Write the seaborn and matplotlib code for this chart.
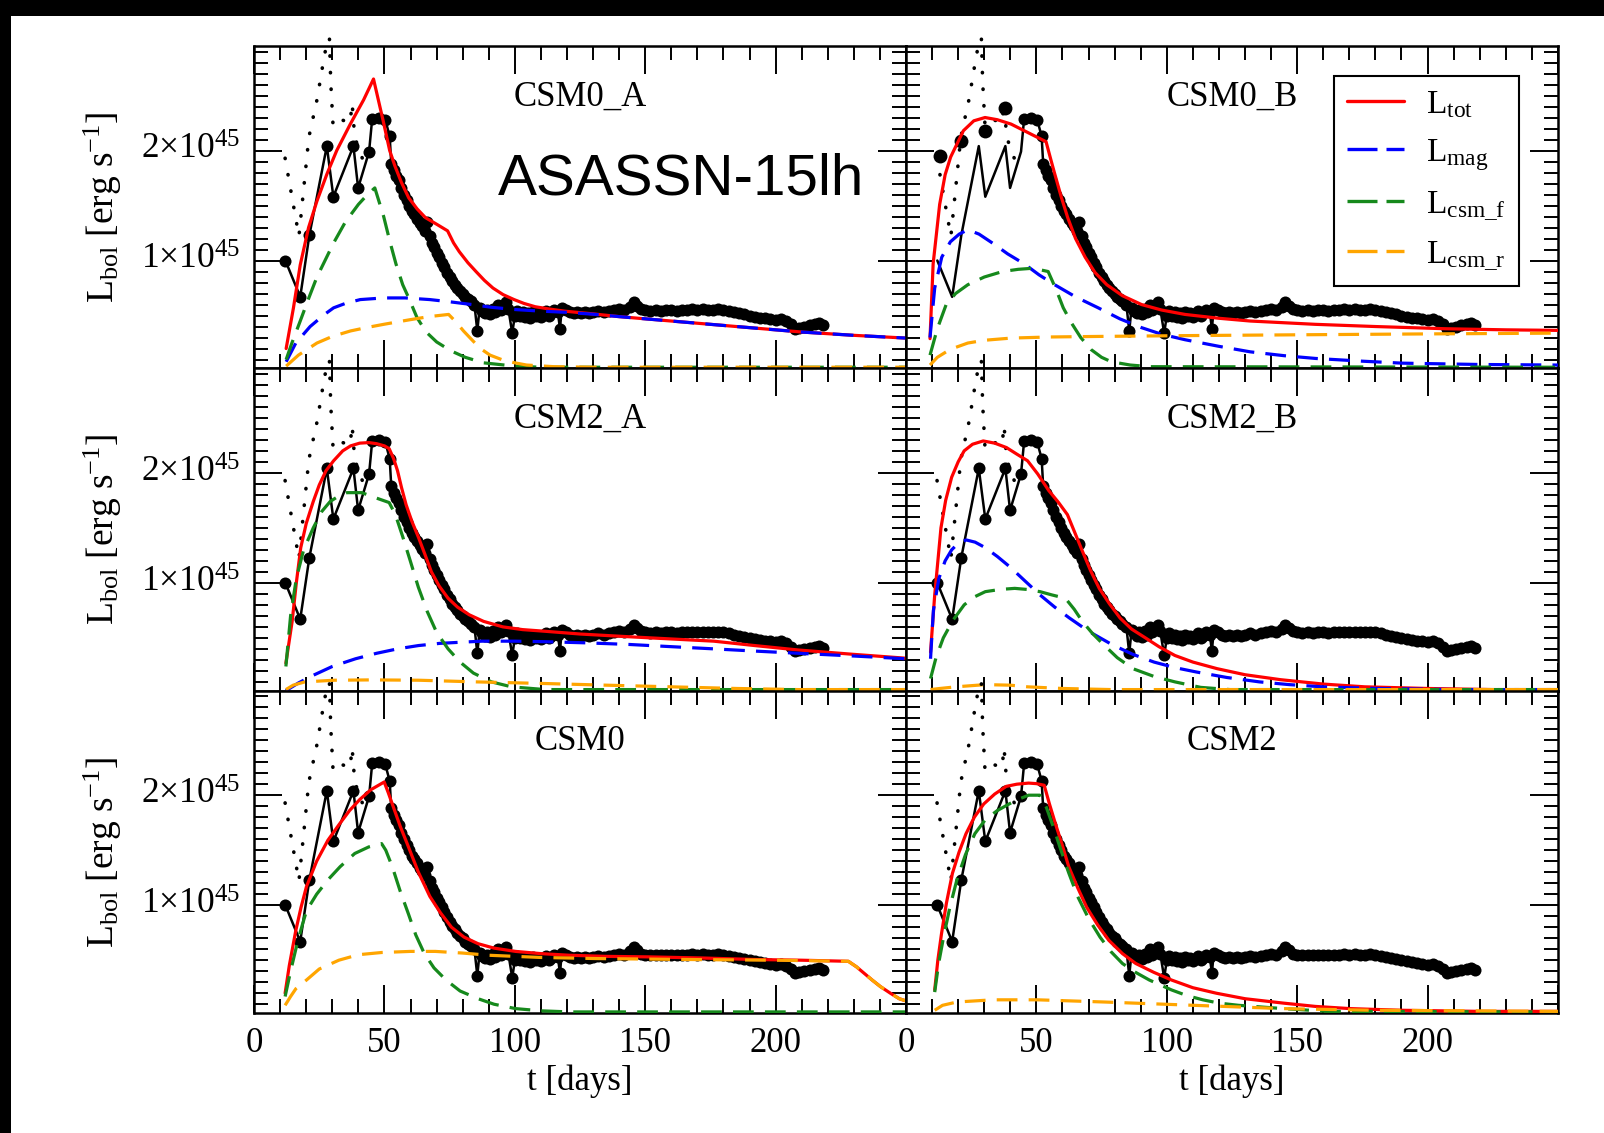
import matplotlib
matplotlib.use("Agg")
import matplotlib.pyplot as plt
from matplotlib.lines import Line2D
from matplotlib.patches import Rectangle
from matplotlib.ticker import FixedLocator, MultipleLocator
import pandas as pd
import seaborn as sns

# ASASSN-15lh bolometric light curve. t in days, L in units of 1e45 erg/s
OBS_DAY = [12.0, 17.7, 21.2, 27.9, 30.4, 38.1, 39.9, 44.1, 45.3, 47.8, 50.3, 52.0,
           52.6, 53.5, 54.5, 55.5, 56.5, 57.5, 58.5, 59.5, 60.5, 61.5, 62.5, 63.5,
           64.5, 65.5, 66.5, 67.3, 68.2, 69.0, 70.0, 71.0, 72.0, 73.0, 74.0, 75.0,
           76.0, 77.0, 78.0, 79.0, 80.0, 81.0, 82.0, 83.0, 84.5, 85.6, 86.5, 87.5,
           88.5, 89.5, 90.5, 91.5, 92.5, 93.5, 94.5, 95.5, 96.5, 97.5, 99.0, 100.0,
           101.0, 102.0, 103.0, 104.0, 105.0, 106.0, 107.0, 108.0, 109.0, 110.0, 111.0,
           112.0, 113.0, 114.0, 115.0, 116.5, 117.3, 118.0, 119.5, 121.0, 122.5, 124.0,
           125.5, 127.0, 128.5, 130.0, 132.0, 134.0, 136.0, 138.0, 140.0, 142.0, 144.0,
           145.5, 147.0, 148.5, 150.0, 152.0, 154.0, 156.0, 158.0, 160.0, 162.0, 164.0,
           166.0, 168.0, 170.0, 172.0, 174.0, 176.0, 178.0, 180.0, 182.0, 184.0, 186.0,
           188.0, 190.0, 192.0, 194.0, 196.0, 198.0, 200.0, 202.0, 204.0, 206.0, 207.5,
           209.0, 211.0, 213.0, 215.0, 216.5, 218.0]
OBS_LUM = [1.00, 0.67, 1.23, 2.04, 1.58, 2.04, 1.66, 1.99, 2.29, 2.30, 2.28, 2.13,
           1.88, 1.82, 1.77, 1.73, 1.66, 1.60, 1.55, 1.50, 1.45, 1.42, 1.38, 1.34,
           1.31, 1.27, 1.35, 1.22, 1.16, 1.12, 1.07, 1.03, 0.98, 0.94, 0.89, 0.85,
           0.81, 0.78, 0.75, 0.72, 0.70, 0.67, 0.65, 0.63, 0.60, 0.36, 0.57, 0.54,
           0.52, 0.55, 0.51, 0.56, 0.53, 0.60, 0.55, 0.58, 0.62, 0.56, 0.34, 0.50,
           0.54, 0.50, 0.53, 0.49, 0.52, 0.48, 0.53, 0.50, 0.52, 0.49, 0.51,
           0.54, 0.50, 0.52, 0.55, 0.53, 0.38, 0.57, 0.55, 0.53, 0.52, 0.53,
           0.52, 0.53, 0.52, 0.53, 0.54, 0.53, 0.54, 0.55, 0.56, 0.55, 0.58,
           0.62, 0.59, 0.56, 0.55, 0.545, 0.55, 0.545, 0.55, 0.55, 0.545, 0.55,
           0.55, 0.555, 0.55, 0.555, 0.55, 0.55, 0.555, 0.55, 0.54, 0.53, 0.52,
           0.51, 0.50, 0.49, 0.48, 0.475, 0.47, 0.46, 0.47, 0.45, 0.42, 0.38,
           0.39, 0.40, 0.41, 0.42, 0.43, 0.41]

# early points joined by the dotted line
EARLY_DAY = [11.9, 17.2, 21.0, 24.2, 26.3, 28.2, 28.9, 29.4, 30.3, 33.5, 36.8, 37.6, 38.6, 41.5, 44.5]
EARLY_LUM = [1.93, 1.22, 2.12, 2.47, 2.77, 3.02, 3.02, 2.62, 2.22, 2.28, 2.25, 2.43, 2.12, 1.93, 2.02]

# big dots only drawn in the CSM0_B panel
EXTRA_DAY = [12.9, 21.0, 30.3, 37.9]
EXTRA_LUM = [1.95, 2.09, 2.18, 2.39]

# model curves, (t, L) pairs
CSM0A_TOT = [(12.3, 0.20), (15.1, 0.57), (17.7, 0.96), (20.9, 1.30), (24.1, 1.54), (28.0, 1.79),
             (31.7, 2.00), (36.9, 2.24), (42.0, 2.46), (45.8, 2.65), (49.5, 2.27), (52.0, 2.00),
             (54.0, 1.86), (56.5, 1.71), (59.3, 1.57), (62.5, 1.47), (65.7, 1.39), (70.0, 1.33),
             (74.2, 1.27), (76.5, 1.16), (78.7, 1.08), (82.0, 0.98), (85.1, 0.90), (88.3, 0.82),
             (91.6, 0.75), (95.5, 0.69), (99.7, 0.645), (103.5, 0.61), (107.8, 0.58), (113.0, 0.56),
             (119.0, 0.54), (130.0, 0.515), (140.0, 0.49), (160.0, 0.45), (175.0, 0.42),
             (190.0, 0.39), (210.0, 0.35), (230.0, 0.32), (250.0, 0.295)]
CSM0A_MAG = [(12.3, 0.08), (16.0, 0.25), (21.5, 0.40), (27.0, 0.51), (30.5, 0.57), (35.0, 0.61),
             (40.7, 0.645), (49.7, 0.66), (58.0, 0.66), (67.4, 0.645), (75.0, 0.625), (83.5, 0.60),
             (91.0, 0.575), (99.7, 0.555), (110.0, 0.54), (119.0, 0.53), (130.0, 0.512),
             (140.0, 0.49), (160.0, 0.45), (175.0, 0.42), (190.0, 0.39), (210.0, 0.35),
             (230.0, 0.32), (250.0, 0.295)]
CSM0A_CSMF = [(12.3, 0.10), (14.5, 0.25), (17.7, 0.45), (21.0, 0.66), (24.1, 0.85), (27.0, 0.99),
              (30.5, 1.16), (35.0, 1.35), (40.0, 1.51), (43.5, 1.60), (46.3, 1.66), (49.7, 1.40),
              (52.0, 1.18), (54.4, 0.97), (57.0, 0.78), (59.3, 0.66), (62.5, 0.48), (66.0, 0.35),
              (70.0, 0.26), (75.4, 0.18), (81.0, 0.12), (88.0, 0.07), (100.0, 0.04),
              (110.0, 0.03), (250.0, 0.03)]
CSM0A_CSMR = [(12.3, 0.04), (17.0, 0.14), (24.1, 0.25), (30.0, 0.31), (37.0, 0.36), (43.0, 0.39),
              (49.7, 0.42), (59.3, 0.46), (67.0, 0.49), (74.6, 0.51), (77.5, 0.44), (80.3, 0.36),
              (83.5, 0.28), (86.8, 0.20), (90.5, 0.14), (94.9, 0.10), (100.0, 0.07),
              (104.5, 0.05), (115.0, 0.035), (130.0, 0.03), (250.0, 0.03)]

CSM0B_TOT = [(9.2, 0.29), (10.4, 0.97), (12.9, 1.51), (15.0, 1.78), (17.1, 1.94), (22.0, 2.18),
             (26.0, 2.27), (30.3, 2.30), (35.0, 2.28), (40.3, 2.24), (47.0, 2.16), (53.7, 2.08),
             (55.5, 1.92), (57.0, 1.79), (59.5, 1.58), (62.0, 1.39), (65.0, 1.20), (68.7, 1.03),
             (72.5, 0.89), (77.0, 0.78), (83.0, 0.68), (90.3, 0.60), (98.0, 0.55), (107.0, 0.51),
             (120.0, 0.475), (132.0, 0.45), (157.0, 0.42), (180.0, 0.40), (206.9, 0.38),
             (230.0, 0.37), (250.0, 0.365)]
CSM0B_MAG = [(9.2, 0.30), (11.0, 0.75), (13.7, 1.03), (17.0, 1.17), (20.4, 1.24), (23.7, 1.28),
             (28.0, 1.24), (33.7, 1.15), (39.0, 1.06), (45.3, 0.97), (51.0, 0.87), (57.0, 0.78),
             (65.0, 0.67), (73.7, 0.57), (82.0, 0.47), (90.3, 0.39), (98.0, 0.33), (107.0, 0.28),
             (120.0, 0.22), (132.0, 0.17), (145.0, 0.135), (157.0, 0.11), (175.0, 0.085),
             (190.4, 0.067), (220.0, 0.055), (250.0, 0.05)]
CSM0B_CSMF = [(9.2, 0.14), (12.0, 0.38), (15.4, 0.60), (19.0, 0.70), (23.7, 0.78), (30.0, 0.85),
              (37.0, 0.90), (43.0, 0.92), (48.7, 0.93), (54.5, 0.90), (57.5, 0.74), (60.3, 0.57),
              (63.5, 0.43), (67.0, 0.30), (71.0, 0.19), (75.0, 0.12), (78.7, 0.08), (86.0, 0.05),
              (93.7, 0.035), (250.0, 0.03)]
CSM0B_CSMR = [(9.2, 0.05), (12.0, 0.12), (15.4, 0.17), (19.0, 0.21), (23.7, 0.25), (30.0, 0.275),
              (40.3, 0.295), (55.0, 0.305), (73.7, 0.31), (110.0, 0.318), (157.0, 0.326),
              (200.0, 0.333), (250.0, 0.34)]

CSM2A_TOT = [(12.2, 0.27), (14.6, 0.65), (16.2, 1.00), (17.9, 1.32), (20.0, 1.54), (22.7, 1.74),
             (25.0, 1.89), (27.6, 2.02), (30.5, 2.11), (34.0, 2.20), (37.0, 2.245), (40.5, 2.27),
             (44.0, 2.275), (47.0, 2.265), (50.0, 2.245), (51.8, 2.22), (53.5, 2.13), (55.0, 2.02),
             (56.5, 1.87), (58.3, 1.71), (60.5, 1.56), (63.1, 1.41), (65.5, 1.26), (68.0, 1.10),
             (71.0, 0.97), (74.4, 0.86), (78.0, 0.78), (82.5, 0.71), (88.0, 0.65), (95.4, 0.60),
             (103.0, 0.575), (111.6, 0.56), (125.0, 0.535), (143.9, 0.51), (160.0, 0.49),
             (176.3, 0.47), (192.0, 0.43), (208.6, 0.39), (230.0, 0.35), (250.0, 0.315)]
CSM2A_MAG = [(12.2, 0.02), (17.0, 0.09), (22.7, 0.16), (30.0, 0.24), (38.9, 0.31), (47.0, 0.36),
             (55.0, 0.40), (63.0, 0.43), (71.2, 0.45), (79.0, 0.46), (87.4, 0.47), (100.0, 0.47),
             (111.6, 0.465), (127.0, 0.455), (143.9, 0.44), (160.0, 0.42), (176.3, 0.40),
             (192.0, 0.38), (208.6, 0.36), (230.0, 0.335), (250.0, 0.31)]
CSM2A_CSMF = [(12.2, 0.24), (14.0, 0.70), (16.2, 1.04), (19.0, 1.30), (22.7, 1.50), (26.0, 1.65),
              (29.2, 1.74), (32.5, 1.79), (35.6, 1.82), (41.3, 1.82), (47.0, 1.77), (51.8, 1.73),
              (54.2, 1.62), (57.0, 1.42), (59.9, 1.20), (63.0, 0.96), (66.4, 0.74), (70.0, 0.55),
              (74.4, 0.40), (79.0, 0.28), (84.1, 0.18), (91.0, 0.10), (98.7, 0.055),
              (111.6, 0.03), (250.0, 0.03)]
CSM2A_CSMR = [(12.2, 0.03), (15.0, 0.07), (19.5, 0.10), (30.8, 0.115), (45.0, 0.118), (63.1, 0.115),
              (85.0, 0.10), (111.6, 0.085), (135.0, 0.07), (160.0, 0.055), (185.0, 0.04),
              (208.6, 0.03), (250.0, 0.03)]

CSM2B_TOT = [(9.4, 0.37), (11.0, 0.89), (13.4, 1.50), (15.2, 1.75), (17.5, 1.96), (20.0, 2.10),
             (22.3, 2.20), (25.5, 2.26), (29.6, 2.29), (34.0, 2.27), (38.5, 2.23), (42.5, 2.17),
             (46.6, 2.11), (50.5, 1.99), (54.7, 1.84), (58.5, 1.73), (61.9, 1.62), (64.5, 1.47),
             (67.6, 1.29), (70.8, 1.11), (74.1, 0.95), (78.0, 0.81), (82.1, 0.68), (86.5, 0.58),
             (91.8, 0.50), (97.0, 0.42), (103.1, 0.34), (110.0, 0.28), (119.3, 0.22),
             (130.0, 0.165), (143.6, 0.12), (160.0, 0.08), (175.9, 0.055), (200.0, 0.04),
             (225.0, 0.03), (250.0, 0.03)]
CSM2B_MAG = [(9.4, 0.31), (10.5, 0.75), (12.6, 1.04), (15.0, 1.20), (17.5, 1.30), (20.0, 1.36),
             (23.1, 1.39), (26.5, 1.37), (30.4, 1.32), (35.0, 1.24), (40.1, 1.14), (45.5, 1.02),
             (51.4, 0.89), (57.0, 0.78), (62.7, 0.68), (70.0, 0.56), (78.9, 0.44), (87.0, 0.35),
             (95.1, 0.28), (103.0, 0.23), (111.3, 0.19), (123.0, 0.14), (135.5, 0.10),
             (147.0, 0.075), (159.7, 0.055), (180.0, 0.04), (210.0, 0.03), (250.0, 0.03)]
CSM2B_CSMF = [(9.4, 0.13), (11.5, 0.32), (14.3, 0.50), (18.0, 0.66), (22.3, 0.80), (26.0, 0.87),
              (30.4, 0.92), (36.0, 0.94), (41.7, 0.95), (46.5, 0.94), (51.4, 0.92), (56.0, 0.89),
              (61.1, 0.86), (64.5, 0.76), (67.6, 0.65), (71.5, 0.54), (75.7, 0.44), (81.0, 0.32),
              (87.0, 0.22), (95.0, 0.15), (103.1, 0.10), (113.0, 0.05), (124.2, 0.03),
              (250.0, 0.03)]
CSM2B_CSMR = [(9.4, 0.03), (13.0, 0.04), (19.1, 0.055), (30.4, 0.075), (40.0, 0.07), (46.6, 0.055),
              (60.0, 0.04), (78.9, 0.03), (250.0, 0.03)]

CSM0_TOT = [(11.9, 0.20), (13.5, 0.45), (16.0, 0.77), (18.0, 0.98), (20.1, 1.17), (24.0, 1.40),
            (28.3, 1.59), (32.5, 1.73), (36.6, 1.86), (40.5, 1.96), (44.8, 2.05), (49.9, 2.12),
            (51.5, 2.02), (53.0, 1.92), (56.0, 1.72), (59.2, 1.53), (63.0, 1.30), (67.4, 1.08),
            (71.5, 0.93), (75.7, 0.80), (80.5, 0.71), (85.9, 0.65), (92.0, 0.61), (100.3, 0.58),
            (110.0, 0.56), (120.9, 0.545), (135.0, 0.535), (151.8, 0.53), (172.0, 0.52),
            (192.9, 0.506), (210.0, 0.50), (227.9, 0.49), (231.0, 0.44), (234.0, 0.38),
            (237.0, 0.32), (240.2, 0.26), (244.0, 0.20), (247.4, 0.15), (250.0, 0.13)]
CSM0_CSMF = [(11.9, 0.17), (14.0, 0.40), (16.0, 0.60), (18.0, 0.78), (20.1, 0.95), (24.0, 1.10),
             (28.3, 1.23), (33.0, 1.35), (38.6, 1.47), (44.0, 1.53), (48.9, 1.56), (50.5, 1.50),
             (53.0, 1.35), (56.0, 1.13), (59.2, 0.92), (62.0, 0.73), (65.3, 0.56), (69.0, 0.43),
             (73.6, 0.32), (79.0, 0.22), (85.9, 0.15), (92.0, 0.10), (100.3, 0.06),
             (110.0, 0.04), (120.9, 0.03), (250.0, 0.03)]
CSM0_CSMR = [(11.9, 0.09), (14.0, 0.17), (16.0, 0.24), (20.1, 0.32), (25.0, 0.42), (32.5, 0.50),
             (40.0, 0.55), (48.9, 0.57), (60.0, 0.58), (69.5, 0.58), (80.0, 0.565), (90.0, 0.545),
             (110.0, 0.525), (131.2, 0.515), (152.0, 0.51), (172.3, 0.505), (200.0, 0.50),
             (227.9, 0.49), (231.0, 0.44), (234.0, 0.38), (237.0, 0.32), (240.2, 0.26),
             (244.0, 0.20), (247.4, 0.15), (250.0, 0.13)]

CSM2_TOT = [(11.0, 0.23), (12.2, 0.50), (13.6, 0.74), (15.5, 1.02), (17.8, 1.29), (20.3, 1.48),
            (23.0, 1.65), (26.2, 1.80), (29.8, 1.92), (34.0, 2.01), (38.4, 2.08), (42.5, 2.10),
            (47.0, 2.11), (50.0, 2.105), (53.0, 2.09), (55.0, 1.92), (57.3, 1.74), (60.0, 1.54),
            (62.4, 1.35), (65.8, 1.16), (69.3, 0.98), (73.5, 0.82), (77.8, 0.68), (83.0, 0.56),
            (88.1, 0.47), (95.0, 0.39), (101.8, 0.32), (110.0, 0.25), (119.0, 0.20),
            (130.0, 0.15), (144.7, 0.11), (157.0, 0.08), (170.4, 0.06), (190.0, 0.045),
            (220.0, 0.035), (250.0, 0.035)]
CSM2_CSMF = [(11.0, 0.21), (12.5, 0.47), (14.4, 0.71), (16.8, 0.98), (19.5, 1.23), (22.8, 1.46),
             (26.4, 1.65), (30.5, 1.78), (35.0, 1.86), (41.8, 1.95), (47.0, 2.00), (51.3, 2.00),
             (53.8, 1.89), (56.5, 1.71), (59.0, 1.53), (62.3, 1.30), (65.8, 1.08), (70.0, 0.88),
             (74.4, 0.71), (78.5, 0.58), (83.0, 0.47), (88.0, 0.39), (93.3, 0.32), (101.8, 0.23),
             (107.5, 0.18), (113.8, 0.14), (120.0, 0.11), (127.5, 0.09), (144.7, 0.06),
             (161.8, 0.035), (250.0, 0.03)]
CSM2_CSMR = [(11.0, 0.045), (14.0, 0.09), (19.5, 0.12), (33.3, 0.14), (50.4, 0.14), (76.1, 0.12),
             (110.4, 0.09), (144.7, 0.06), (179.0, 0.045), (250.0, 0.035)]

PANELS = [
    ("CSM0_A", CSM0A_TOT, CSM0A_MAG, CSM0A_CSMF, CSM0A_CSMR),
    ("CSM0_B", CSM0B_TOT, CSM0B_MAG, CSM0B_CSMF, CSM0B_CSMR),
    ("CSM2_A", CSM2A_TOT, CSM2A_MAG, CSM2A_CSMF, CSM2A_CSMR),
    ("CSM2_B", CSM2B_TOT, CSM2B_MAG, CSM2B_CSMF, CSM2B_CSMR),
    ("CSM0", CSM0_TOT, None, CSM0_CSMF, CSM0_CSMR),
    ("CSM2", CSM2_TOT, None, CSM2_CSMF, CSM2_CSMR),
]

RED, BLUE, GREEN, ORANGE = "#ff0000", "#0000ff", "#16891c", "#ffa500"
DASH = (0, (6.5, 3.5))

sns.set_theme(style="ticks")
plt.rcParams.update({
    "font.family": ["Liberation Serif", "DejaVu Serif"],
    "mathtext.fontset": "custom",
    "mathtext.rm": "Liberation Serif",
    "mathtext.it": "Liberation Serif:italic",
    "mathtext.bf": "Liberation Serif:bold",
    "axes.edgecolor": "black",
    "axes.labelcolor": "black",
    "text.color": "black",
    "xtick.color": "black",
    "ytick.color": "black",
    "axes.linewidth": 1.8,
})


def draw_curve(ax, pts, color, ls, lw=2.3, z=3):
    df = pd.DataFrame(pts, columns=["t", "L"])
    sns.lineplot(data=df, x="t", y="L", ax=ax, color=color, linestyle=ls,
                 linewidth=lw, estimator=None, sort=False, zorder=z)


fig, axes = plt.subplots(3, 2, figsize=(16.04, 11.33), dpi=100, sharex=True, sharey=True,
                         gridspec_kw=dict(left=0.1584, right=0.9713, top=0.9594,
                                          bottom=0.1059, wspace=0, hspace=0))
fig.patch.set_facecolor("black")
fig.add_artist(Rectangle((11 / 1604, 0), 1, 1 - 16 / 1133, transform=fig.transFigure,
                         facecolor="white", edgecolor="none", zorder=-10))

obs = pd.DataFrame({"t": OBS_DAY, "L": OBS_LUM})
early = pd.DataFrame({"t": EARLY_DAY, "L": EARLY_LUM})

for ax, (name, tot, mag, csmf, csmr) in zip(axes.flat, PANELS):
    # data
    sns.lineplot(data=early, x="t", y="L", ax=ax, color="black", linestyle=(0, (0.1, 4.5)),
                 linewidth=2.6, dash_capstyle="round", estimator=None, sort=False,
                 clip_on=False, zorder=2)
    sns.lineplot(data=obs, x="t", y="L", ax=ax, color="black", linewidth=1.8,
                 estimator=None, sort=False, zorder=2)
    pts = obs if name != "CSM0_B" else obs[obs["t"] >= 45]
    sns.scatterplot(data=pts, x="t", y="L", ax=ax, color="black", s=75,
                    linewidth=0, zorder=2.5)
    if name == "CSM0_B":
        sns.scatterplot(x=EXTRA_DAY, y=EXTRA_LUM, ax=ax, color="black", s=100,
                        linewidth=0, zorder=2.5)

    # models
    draw_curve(ax, tot, RED, "-", z=3)
    if mag is not None:
        draw_curve(ax, mag, BLUE, DASH, z=3.1)
    draw_curve(ax, csmf, GREEN, DASH, z=3.2)
    draw_curve(ax, csmr, ORANGE, DASH, z=3.3)

    ax.text(0.5, 0.815, name, transform=ax.transAxes, ha="center", va="baseline", fontsize=25)

    ax.set_xlim(0, 250)
    ax.set_ylim(0.02, 2.95)
    ax.xaxis.set_major_locator(FixedLocator([0, 50, 100, 150, 200, 250]))
    ax.xaxis.set_minor_locator(MultipleLocator(10))
    ax.yaxis.set_major_locator(FixedLocator([1, 2]))
    ax.yaxis.set_minor_locator(MultipleLocator(0.1))
    ax.tick_params(which="both", direction="in", top=True, right=True, width=1.4,
                   colors="black")
    ax.tick_params(which="major", length=20, pad=10)
    ax.tick_params(which="minor", length=10)
    ax.tick_params(axis="x", labelsize=25)
    ax.tick_params(axis="y", labelsize=25.5)
    ax.set_xlabel("")
    ax.set_ylabel("")

for ax in axes[:, 0]:
    ax.set_yticklabels([r"$1{\times}10^{45}$", r"$2{\times}10^{45}$"], va="center")
    ax.set_ylabel(r"$\mathrm{L_{bol}\ [erg\ s^{-1}]}$", fontsize=27)
    ax.yaxis.set_label_coords(-0.2, 0.5)

for ax in axes[2, :]:
    ax.set_xticklabels(["0", "50", "100", "150", "200", ""])
    ax.set_xlabel("t [days]", fontsize=25)
    ax.xaxis.set_label_coords(0.5, -0.16)

axes[0, 0].text(0.655, 0.54, "ASASSN-15lh", transform=axes[0, 0].transAxes, ha="center",
                va="baseline", fontsize=42, family="Liberation Sans")

handles = [
    Line2D([], [], color=RED, lw=2.4),
    Line2D([], [], color=BLUE, lw=2.4, ls=(0, (9, 2.7))),
    Line2D([], [], color=GREEN, lw=2.4, ls=(0, (9, 2.7))),
    Line2D([], [], color=ORANGE, lw=2.4, ls=(0, (9, 2.7))),
]
labels = [r"$\mathrm{L_{tot}}$", r"$\mathrm{L_{mag}}$", r"$\mathrm{L_{csm\_f}}$",
          r"$\mathrm{L_{csm\_r}}$"]
leg = axes[0, 1].legend(handles, labels, loc="upper right", bbox_to_anchor=(0.94, 0.907),
                        borderaxespad=0, fontsize=24, frameon=True, fancybox=False,
                        framealpha=1, edgecolor="black", handlelength=1.7,
                        handletextpad=0.65, labelspacing=0.5, borderpad=0.4)
leg.get_frame().set_linewidth(1.5)

fig.savefig("out.png", dpi=100)
